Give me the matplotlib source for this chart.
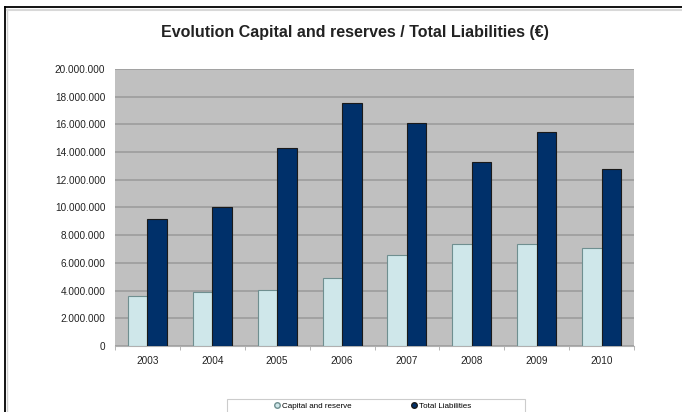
import numpy as np
import matplotlib.pyplot as plt
from matplotlib.lines import Line2D
from matplotlib.patches import Rectangle
from matplotlib.ticker import FuncFormatter, FixedLocator

plt.rcParams['font.family'] = ['Liberation Sans', 'DejaVu Sans']

# values (EUR)
years = ['2003', '2004', '2005', '2006', '2007', '2008', '2009', '2010']
capital = [3610000, 3920000, 4040000, 4890000, 6570000, 7340000, 7340000, 7050000]
liabilities = [9150000, 10060000, 14270000, 17520000, 16120000, 13300000, 15430000, 12760000]

W, H = 682, 412
fig = plt.figure(figsize=(W / 100, H / 100), dpi=100)
fig.patch.set_facecolor('white')

# plot area in pixels
left, right, top, bottom = 115, 634, 69, 346
ax = fig.add_axes([left / W, 1 - bottom / H, (right - left) / W, (bottom - top) / H])
ax.set_facecolor('#c0c0c0')

x = np.arange(len(years))
bw = 0.3
ax.bar(x - bw / 2, capital, bw, color='#cfe7ea', edgecolor='#6f8f90', linewidth=0.8, zorder=3,
       label='Capital and reserve')
ax.bar(x + bw / 2, liabilities, bw, color='#00306a', edgecolor='#1a1a1a', linewidth=0.8, zorder=3,
       label='Total Liabilities')

ax.set_xlim(-0.5, len(years) - 0.5)
ax.set_ylim(0, 20000000)
ax.set_yticks(np.arange(0, 20000001, 2000000))
ax.yaxis.set_major_formatter(FuncFormatter(lambda v, p: f'{int(v):,}'.replace(',', '.')))
ax.grid(axis='y', color='#9c9c9c', linewidth=1.2, zorder=1)
ax.set_xticks(x)
ax.set_xticklabels(years)
ax.xaxis.set_minor_locator(FixedLocator(np.arange(-0.5, len(years), 1)))
ax.tick_params(axis='both', which='major', length=0, labelsize=7.2, colors='#222222', pad=7)
ax.tick_params(axis='x', which='minor', length=3, color='#aaaaaa')
for s in ['top', 'right', 'left']:
    ax.spines[s].set_visible(False)
ax.spines['bottom'].set_color('#b0b0b0')

fig.text(355 / W, 1 - 32 / H, 'Evolution Capital and reserves / Total Liabilities (€)',
         ha='center', va='center', fontsize=11.5, fontweight='bold', color='#222222')

# legend box, partly cut by the bottom edge
fig.add_artist(Rectangle((227 / W, -0.02), 298 / W, 0.02 + 13 / H, transform=fig.transFigure,
                         facecolor='white', edgecolor='#cccccc', linewidth=0.8))
handles = [Line2D([], [], marker='o', linestyle='none', markersize=4,
                  markerfacecolor='#cfe7ea', markeredgecolor='#6f8f90'),
           Line2D([], [], marker='o', linestyle='none', markersize=4,
                  markerfacecolor='#00306a', markeredgecolor='#1a1a1a')]
leg = fig.legend(handles, ['Capital and reserve', 'Total Liabilities'], ncol=2,
                 loc='center', bbox_to_anchor=(372 / W, 1 - 406 / H),
                 fontsize=5.8, frameon=False,
                 handletextpad=0.1, columnspacing=7.3, borderpad=0, handlelength=1)

# outer frame of the screenshot
fig.add_artist(Line2D([5 / W, 5 / W], [0, 1 - 7 / H], color='black', linewidth=1.3))
fig.add_artist(Line2D([5 / W, 1], [1 - 7 / H, 1 - 7 / H], color='black', linewidth=1.3))
fig.add_artist(Line2D([7 / W, 7 / W], [0, 1 - 9 / H], color='#d0d0d0', linewidth=1))
fig.add_artist(Line2D([7 / W, 1], [1 - 9.5 / H, 1 - 9.5 / H], color='#d8d8d8', linewidth=1.5))

fig.savefig('out.png', dpi=100)
